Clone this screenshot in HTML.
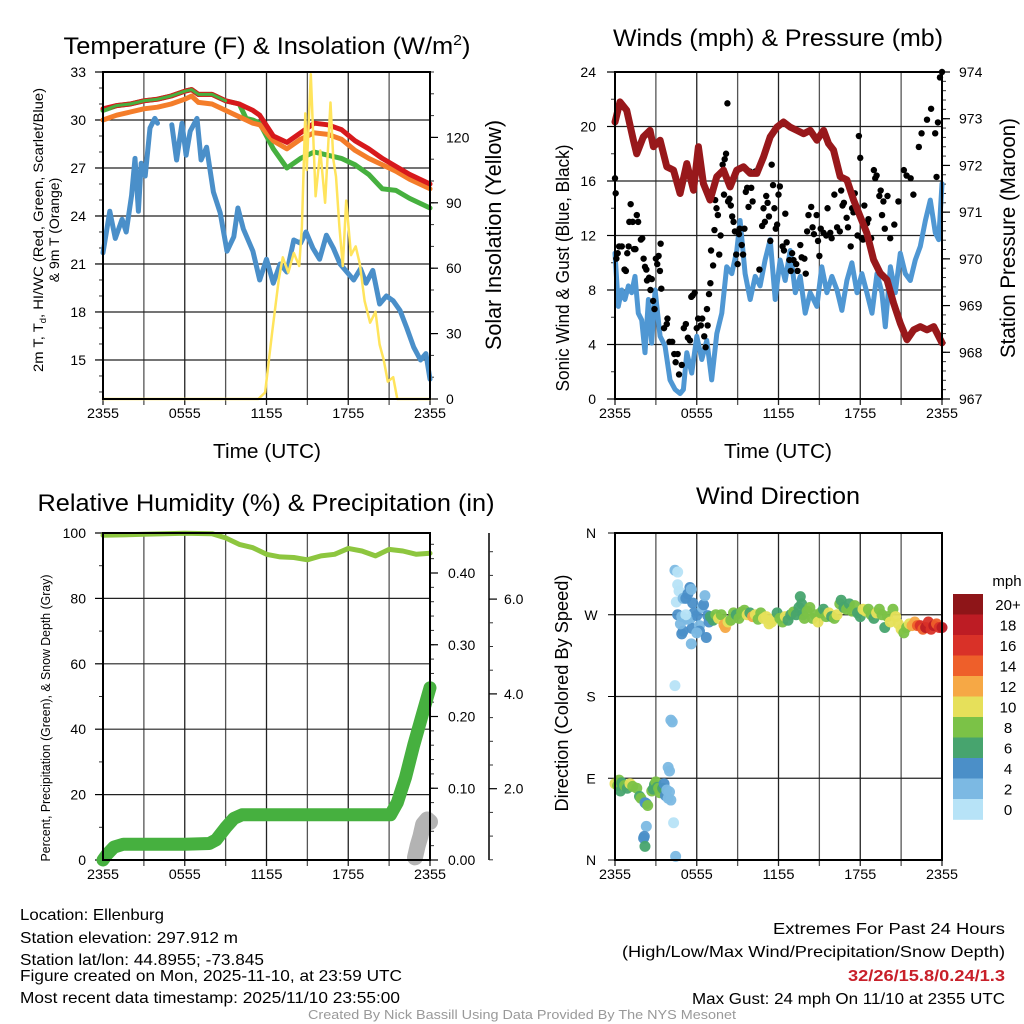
<!DOCTYPE html>
<html><head><meta charset="utf-8"><style>
html,body{margin:0;padding:0;background:#fff;}
svg{display:block;font-family:"Liberation Sans",sans-serif;}
</style></head><body>
<svg id="c" xmlns="http://www.w3.org/2000/svg" width="1024" height="1024" viewBox="0 0 1024 1024">
<rect width="1024" height="1024" fill="#fff"/>
<text x="267" y="54" font-size="24" text-anchor="middle" textLength="407" lengthAdjust="spacingAndGlyphs">Temperature (F) &amp; Insolation (W/m<tspan dy="-9" font-size="15">2</tspan><tspan dy="9">)</tspan></text>
<text x="778" y="46" font-size="24" text-anchor="middle" textLength="330" lengthAdjust="spacingAndGlyphs">Winds (mph) &amp; Pressure (mb)</text>
<text x="266" y="511" font-size="24" text-anchor="middle" textLength="457" lengthAdjust="spacingAndGlyphs">Relative Humidity (%) &amp; Precipitation (in)</text>
<text x="778" y="504" font-size="24" text-anchor="middle" textLength="164" lengthAdjust="spacingAndGlyphs">Wind Direction</text>
<text x="267" y="458" font-size="20" text-anchor="middle" textLength="108" lengthAdjust="spacingAndGlyphs">Time (UTC)</text>
<text x="778" y="458" font-size="20" text-anchor="middle" textLength="108" lengthAdjust="spacingAndGlyphs">Time (UTC)</text>
<text transform="translate(43,230) rotate(-90)" font-size="14" text-anchor="middle" textLength="284" lengthAdjust="spacingAndGlyphs">2m T, T<tspan font-size="9" dy="3">d</tspan><tspan dy="-3">, HI/WC (Red, Green, Scarlet/Blue)</tspan></text>
<text transform="translate(59,230) rotate(-90)" font-size="14" text-anchor="middle">&amp; 9m T (Orange)</text>
<text transform="translate(501,235) rotate(-90)" font-size="22" text-anchor="middle" textLength="230" lengthAdjust="spacingAndGlyphs">Solar Insolation (Yellow)</text>
<text transform="translate(569,268) rotate(-90)" font-size="18" text-anchor="middle" textLength="247" lengthAdjust="spacingAndGlyphs">Sonic Wind &amp; Gust (Blue, Black)</text>
<text transform="translate(1015,238) rotate(-90)" font-size="21" text-anchor="middle" textLength="240" lengthAdjust="spacingAndGlyphs">Station Pressure (Maroon)</text>
<text transform="translate(50,718) rotate(-90)" font-size="13" text-anchor="middle" textLength="287" lengthAdjust="spacingAndGlyphs">Percent, Precipitation (Green), &amp; Snow Depth (Gray)</text>
<text transform="translate(568,693) rotate(-90)" font-size="18" text-anchor="middle" textLength="237" lengthAdjust="spacingAndGlyphs">Direction (Colored By Speed)</text>
<g font-size="16">
<text x="20" y="920" textLength="144" lengthAdjust="spacingAndGlyphs">Location: Ellenburg</text>
<text x="20" y="943" textLength="218" lengthAdjust="spacingAndGlyphs">Station elevation: 297.912 m</text>
<text x="20" y="965" textLength="244" lengthAdjust="spacingAndGlyphs">Station lat/lon: 44.8955; -73.845</text>
<text x="20" y="981" textLength="382" lengthAdjust="spacingAndGlyphs">Figure created on Mon, 2025-11-10, at 23:59 UTC</text>
<text x="20" y="1003" textLength="380" lengthAdjust="spacingAndGlyphs">Most recent data timestamp: 2025/11/10 23:55:00</text>
<text x="773" y="934" textLength="232" lengthAdjust="spacingAndGlyphs">Extremes For Past 24 Hours</text>
<text x="622" y="957" textLength="383" lengthAdjust="spacingAndGlyphs">(High/Low/Max Wind/Precipitation/Snow Depth)</text>
<text x="848" y="981" textLength="157" lengthAdjust="spacingAndGlyphs" font-weight="bold" fill="#c8202a">32/26/15.8/0.24/1.3</text>
<text x="692" y="1004" textLength="313" lengthAdjust="spacingAndGlyphs">Max Gust: 24 mph On 11/10 at 2355 UTC</text>
</g>
<text x="308" y="1019" font-size="13" fill="#999" textLength="428" lengthAdjust="spacingAndGlyphs">Created By Nick Bassill Using Data Provided By The NYS Mesonet</text>
</svg>
<script>
// ---- data ----
const xTickLabels = ["2355","0555","1155","1755","2355"];
const tTimes = [0,1,2,3,4,5,6,6.5,7,8,9,10,10.5,11,11.5,12.5,13.5,14.5,15.5,16.5,17.5,18.5,19.5,20.5,21.5,22.5,24];
const tRed =   [30.7,30.9,31.0,31.2,31.3,31.5,31.8,31.9,31.6,31.6,31.2,31.0,30.8,30.6,30.3,29.0,28.6,29.2,29.8,29.7,29.4,28.7,28.2,27.6,27.1,26.6,26.0];
const tOrange= [30.0,30.3,30.5,30.7,30.8,31.0,31.3,31.5,31.1,31.0,30.6,30.2,30.0,29.8,29.7,28.7,28.2,28.8,29.2,29.1,28.8,28.1,27.6,27.2,26.8,26.3,25.7];
const tGreen = [30.6,30.9,31.0,31.2,31.3,31.5,31.8,31.9,31.6,31.6,31.2,31.0,30.1,30.0,29.8,28.2,27.0,27.6,28.0,27.8,27.6,27.2,26.6,25.7,25.6,25.1,24.5];
const dTimes = [0,0.5,0.9,1.4,1.7,2.1,2.35,2.6,2.8,3.1,3.45,3.8,4.0,4.5,5.05,5.4,5.8,6.1,6.4,6.9,7.2,7.6,8.1,8.6,9.1,9.6,9.9,10.3,11,11.5,12,12.5,13,13.5,14,14.5,14.9,15.4,15.9,16.4,16.9,17.4,17.9,18.4,18.9,19.3,19.8,20.3,20.8,21.3,21.8,22.3,22.8,23.3,23.7,24];
const dBlue = [21.7,24.3,22.6,23.8,23.0,25.3,27.6,24.3,27.3,26.5,29.5,30.1,29.8,null,29.7,27.5,29.8,27.8,29.3,30.1,27.5,28.3,25.5,24.2,21.8,22.7,24.5,23.2,21.8,20.0,21.3,19.8,21.0,20.5,22.5,22.3,23.0,22.0,21.3,22.8,22.0,21.0,20.5,20.0,20.7,19.8,20.6,18.5,19.0,18.7,18.1,17.0,15.8,15.0,15.4,13.8];
const sTimes = [0,11.4,11.9,12.4,12.9,13.2,13.6,14.0,14.4,14.6,14.85,14.95,15.25,15.6,15.95,16.3,16.7,16.9,17.1,17.35,17.6,17.85,18.2,18.55,18.85,19.2,19.6,20.0,20.3,20.6,20.9,21.3,21.6,24];
const sYellow= [0,0,3,30,55,65,58,67,61,79,131,105,149,93,114,90,136,110,102,79,61,91,66,70,62,45,35,40,25,18,8,10,0,0];
const wTimes = [0,.24,.49,.73,.98,1.22,1.47,1.71,1.96,2.2,2.45,2.69,2.94,3.31,3.67,4.04,4.41,4.78,5.02,5.27,5.63,6.0,6.37,6.74,7.1,7.47,7.84,8.2,8.57,8.94,9.18,9.55,9.92,10.29,10.65,11.02,11.39,11.76,12.12,12.49,12.86,13.23,13.59,13.96,14.33,14.82,15.18,15.55,15.92,16.29,16.65,17.02,17.39,17.76,18.12,18.49,18.86,19.23,19.59,19.84,20.21,20.57,20.94,21.31,21.67,22.04,22.41,22.78,23.14,23.51,23.76,24.0];
const wSpeed = [10.7,6.8,8.0,7.3,8.3,7.8,9.0,6.3,5.8,3.4,7.3,4.1,8.0,4.6,3.9,1.4,0.7,0.4,0.7,3.4,1.9,4.6,2.9,4.3,1.4,4.8,6.3,9.7,9.2,10.9,13.1,9.2,7.3,9.0,8.3,10.2,11.7,7.3,10.2,8.7,10.9,7.8,9.0,6.3,7.8,6.8,9.7,7.8,9.0,8.0,6.5,8.7,10.0,7.8,9.2,7.8,6.3,9.2,7.8,5.3,9.7,7.8,10.7,9.2,8.7,10.2,11.2,13.1,14.6,12.2,11.7,15.8];
const gTimes = [0,0.05,0.1,0.2,0.3,0.5,0.7,0.8,0.9,1.0,1.05,1.15,1.3,1.4,1.5,1.6,1.7,1.9,2.0,2.1,2.2,2.3,2.35,2.5,2.6,2.7,2.8,2.9,3.0,3.1,3.2,3.3,3.35,3.4,3.6,3.8,3.85,4.0,4.2,4.35,4.45,4.6,4.7,4.9,5.05,5.2,5.35,5.5,5.6,5.7,5.85,6.0,6.1,6.3,6.4,6.55,6.65,6.75,6.8,6.9,7.0,7.05,7.2,7.3,7.35,7.45,7.55,7.65,7.75,7.9,8.0,8.05,8.15,8.25,8.3,8.4,8.5,8.6,8.7,8.8,8.9,9.0,9.1,9.15,9.3,9.4,9.5,9.6,9.7,9.8,9.9,10.0,10.1,10.3,10.6,10.8,10.9,11.0,11.1,11.2,11.3,11.4,11.5,11.6,11.7,11.8,11.9,12.0,12.1,12.3,12.4,12.5,12.6,12.8,12.9,13.0,13.1,13.3,13.4,13.6,13.7,13.9,14.0,14.1,14.2,14.4,14.5,14.6,14.8,14.9,15.0,15.1,15.3,15.5,15.6,15.8,15.9,16.1,16.3,16.5,16.6,16.7,16.8,17.0,17.1,17.3,17.4,17.5,17.6,17.8,17.9,18.0,18.1,18.2,18.3,18.5,18.6,18.8,19.0,19.1,19.2,19.4,19.5,19.6,19.7,19.8,20.0,20.2,20.5,20.8,21.2,21.4,21.7,21.9,22.3,22.5,22.9,23.2,23.5,23.6,23.7,23.85,24];
const gGust  = [16.2,15.1,10.3,10.7,11.2,11.2,9.5,9.4,10.7,11.2,13,14.3,13,11,11,13.5,13,11.7,11.8,10.3,9.7,9.5,8.7,8.9,8,8.8,7.2,6.6,10.3,9.9,10.5,9.4,11.4,8.1,5.2,5.5,5.9,4.2,4.2,3.3,2.7,3.3,1.8,2.5,5.2,5.5,4.5,4.3,7.5,7.6,7.8,5.2,5.9,5.4,5.9,4.6,3.8,6.6,5.4,7.7,8.5,10.9,9.8,12.4,14.6,14,13.5,10.6,12,17.2,15,17.6,18,21.7,14.5,14.7,14.2,13.4,13,12.3,10.6,9.9,12.1,12.5,11.3,10.6,12.5,15.2,15.5,14.1,16.7,15.5,14.5,16.7,9.5,12.7,14,13,14.9,14.4,13.4,11.6,17.2,15.7,14,12.5,12.8,15,15.6,11.2,10.9,13.6,11.5,10.2,9.4,10.7,10.2,9.9,9.4,11.3,10.4,10.3,9.2,12.3,13.5,14.1,12.6,12.1,13.5,11.6,10.5,12.5,12.2,12,14,12.2,11.8,15,12.6,12.3,15.3,14.2,14.4,13.3,12.6,11.2,14,13.7,15.1,12,19.3,17.7,11.8,11.7,14.2,12.9,13.2,11.8,16.8,16.2,16.4,14.9,15.3,13.5,14.5,12.5,14.9,11.8,12.8,14.5,16.8,16.4,16.2,15,18.5,19.5,20.5,21.3,19.5,16.3,20.3,23.6,24];
const pTimes = [0,0.37,0.86,1.35,1.59,2.08,2.57,2.82,3.31,3.80,4.29,4.78,5.27,5.76,6.12,6.49,6.98,7.47,7.96,8.45,8.94,9.43,9.92,10.41,10.90,11.39,11.88,12.37,12.86,13.35,13.84,14.33,14.82,15.31,15.67,16.04,16.53,17.02,17.51,18.0,18.49,18.98,19.47,19.96,20.45,20.94,21.43,21.92,22.41,22.9,23.39,24];
const pPress = [972.93,973.36,973.18,972.54,972.25,972.61,972.75,972.40,972.54,971.97,971.90,971.40,972.04,971.47,972.40,971.61,971.26,971.76,971.90,971.54,971.90,971.97,971.83,971.83,972.18,972.61,972.82,972.93,972.82,972.75,972.68,972.75,972.54,972.75,972.47,972.33,971.76,971.69,971.26,970.90,970.55,969.98,969.69,969.55,969.05,968.62,968.27,968.48,968.55,968.48,968.55,968.2];
const rhTimes = [0,3,6,8,9,10,11,12,13,14,15,16,17,18,19,20,21,22,23,24];
const rhVals  = [99.3,99.6,99.9,99.8,98.5,96.5,95.5,93.5,92.7,92.5,91.8,93,93.5,95.3,94.5,93,95,94.5,93.5,93.8];
const prTimes = [0,0.3,0.8,1.5,6,7.8,8.3,9.0,9.6,10.2,10.6,21.1,21.6,22.2,22.8,23.4,24];
const prVals  = [0,0.008,0.018,0.022,0.022,0.023,0.028,0.045,0.058,0.063,0.063,0.063,0.08,0.115,0.16,0.2,0.24];
const snTimes = [22.9,23.1,23.3,23.5,23.8,24];
const snVals  = [0.55,0.8,1.0,1.25,1.35,1.3];
const dirTimes = [0,0.2,0.3,0.4,0.5,0.7,0.9,1.1,1.3,1.6,1.8,1.9,2.2,2.3,2.4,2.7,2.8,2.9,3.0,3.1,3.2,3.3,3.5,3.6,3.7,3.8,3.9,4.0,4.1,2.3,2.15,2.1,2.2,3.9,4.0,4.3,4.45,4.1,4.2,4.4,4.4,4.6,4.6,4.7,4.5,4.6,4.9,5.0,5.2,5.35,5.5,5.6,5.7,5.8,5.5,5.65,4.9,5.0,5.6,6.0,6.2,6.4,6.5,6.6,6.2,6.8,6.9,6.0,5.3,5.2,4.8,6.7,7.0,7.2,7.4,7.6,7.8,8.0,8.1,8.3,8.5,8.7,8.9,9.1,9.3,9.5,9.7,9.9,10.1,10.3,10.5,10.7,10.9,11.1,11.3,11.5,11.7,11.9,12.1,12.3,12.5,12.7,12.9,13.1,13.3,13.5,13.6,13.7,13.8,13.9,14.1,14.3,14.5,14.7,14.9,15.1,15.3,15.5,15.7,15.9,16.1,16.3,16.5,16.6,16.8,17.0,17.2,17.4,17.6,17.8,18.0,18.2,18.4,18.6,18.8,19.0,19.2,19.4,19.6,19.8,20.0,20.2,20.4,20.6,20.8,21.0,21.2,21.4,21.6,21.8,22.0,22.2,22.4,22.6,22.8,23.0,23.2,23.4,23.6,23.8,24.0];
const dirVals = [84,82,88,76,85,82,79,84,81,79,70,68,63,62,60,76,78,83,86,80,79,74,79,84,71,77,68,75,66,37,26,24,15,102,98,41,4,154,152,192,319,317,303,296,284,270,268,288,288,293,300,298,283,272,265,255,249,252,238,269,258,278,281,291,252,269,262,250,265,270,260,245,268,264,270,266,270,259,256,262,264,272,270,266,273,275,270,272,268,270,265,272,266,268,260,262,266,272,266,262,268,264,270,273,270,278,290,282,270,266,274,278,266,270,262,272,276,268,272,268,266,270,282,286,278,276,282,274,280,272,268,276,274,276,270,266,272,276,270,256,268,262,276,268,260,254,250,256,260,258,262,258,258,254,256,262,254,258,260,256,256];
const dirSpeed= [10,8,8,6,6,8,6,10,8,8,6,8,4,4,8,8,6,6,8,6,8,8,6,4,4,2,2,2,2,2,4,4,6,2,2,0,2,2,2,0,2,0,0,0,0,4,2,2,4,4,4,2,4,4,2,4,4,4,2,4,2,2,4,2,4,4,4,2,2,0,2,4,6,6,8,10,8,12,12,10,8,8,6,8,8,8,10,6,12,10,8,8,10,10,10,10,10,6,8,8,10,6,6,8,6,6,6,6,6,8,8,8,8,8,10,8,6,8,10,6,8,10,8,6,6,8,6,8,8,6,6,10,10,8,8,6,10,8,8,6,8,10,8,10,10,10,8,8,10,12,12,14,16,14,18,16,16,18,14,16,18,16];
const speedLabels = ["20+","18","16","14","12","10","8","6","4","2","0"];
const speedColors = ["#b7e3f7","#7cb9e3","#4b8fc8","#47a46e","#7bc247","#e6e05a","#f6a845","#ee5f2a","#d93128","#bd1c24","#8e1518"];

// ---- drawing ----
const svg=document.getElementById('c');
const NS='http://www.w3.org/2000/svg';
function mk(tag,attrs,parent){const e=document.createElementNS(NS,tag);for(const k in attrs)e.setAttribute(k,attrs[k]);(parent||svg).appendChild(e);return e;}
const P1={x0:103,x1:430,y0:72,y1:399}, P2={x0:615,x1:942,y0:72,y1:399}, P3={x0:103,x1:430,y0:533,y1:860}, P4={x0:615,x1:942,y0:533,y1:860};
function xs(P){return t=>P.x0+t/24*(P.x1-P.x0);}
function lin(P,lo,hi){return v=>P.y1-(v-lo)/(hi-lo)*(P.y1-P.y0);}
const y1L=lin(P1,12.56,33), y1R=lin(P1,0,150);
const y2L=lin(P2,0,24), y2R=lin(P2,967,974);
const y3L=lin(P3,0,100), y3P=v=>860-v*717.5, y3S=v=>883.5-v*47.4;
const y4=lin(P4,0,360);

function frameAndGrid(P,name,yVals,yF){
  const g=mk('g',{});
  
  
  const X=xs(P);
  for(let i=0;i<=8;i++){const x=X(i*3);mk('line',{x1:x,x2:x,y1:P.y0,y2:P.y1+6,stroke:i%2?'#555':'#222','stroke-width':1.3},g);}
  yVals.forEach(v=>{const y=yF(v);mk('line',{x1:P.x0,x2:P.x1,y1:y,y2:y,stroke:'#222','stroke-width':1.2},g);});
  xTickLabels.forEach((l,i)=>{const t=mk('text',{x:X(i*6),y:P.y1+19,'font-size':14,'text-anchor':'middle',textLength:32,lengthAdjust:'spacingAndGlyphs'},g);t.textContent=l;});
}
function border(P,name){
  const r=mk('rect',{x:P.x0,y:P.y0,width:P.x1-P.x0,height:P.y1-P.y0,fill:'none',stroke:'#000','stroke-width':2});
  
  
}
function yAxis(x,dir,major,minor,yF,fmt,name,fs,labelX,anchor){
  const g=mk('g',{});
  
  
  minor.forEach(v=>{const y=yF(v);mk('line',{x1:x,x2:x+dir*4,y1:y,y2:y,stroke:'#333','stroke-width':1},g);});
  major.forEach(v=>{const y=yF(v);mk('line',{x1:x,x2:x+dir*8,y1:y,y2:y,stroke:'#000','stroke-width':1.2},g);
    const t=mk('text',{x:labelX,y:y+5,'font-size':fs,'text-anchor':anchor},g);t.textContent=fmt(v);});
}
function range(a,b,s){const r=[];for(let v=a;v<=b+1e-9;v+=s)r.push(+v.toFixed(4));return r;}
function path(ts,vs,X,Y,attrs,name){
  let d='',pen=false;
  ts.forEach((t,i)=>{const v=vs[i];if(v===null||v===undefined||isNaN(v)){pen=false;return;}
    d+=(pen?'L':'M')+X(t).toFixed(1)+' '+Y(v).toFixed(1)+' ';pen=true;});
  const p=mk('path',Object.assign({d:d,fill:'none','stroke-linejoin':'round','stroke-linecap':'round'},attrs));
  
  
  return p;
}

// Panel 1
frameAndGrid(P1,'temperature',[15,18,21,24,27,30],y1L);
const X1=xs(P1);
yAxis(P1.x0,-1,[15,18,21,24,27,30,33],range(13,32,1),y1L,v=>String(v),'temperature-left-axis',14,86,'end');
yAxis(P1.x1,1,[0,30,60,90,120],range(10,150,10),y1R,v=>String(v),'insolation-right-axis',14,446,'start');
path(dTimes,dBlue,X1,y1L,{stroke:'#4a8fc9','stroke-width':5},'dewpoint-line');
path(tTimes,tGreen,X1,y1L,{stroke:'#46b03f','stroke-width':5},'windchill-line');
path(tTimes,tOrange,X1,y1L,{stroke:'#f47d2a','stroke-width':5},'temp-9m-line');
path(tTimes,tRed,X1,y1L,{stroke:'#d7191c','stroke-width':5},'temp-2m-line');
path(tTimes.slice(0,11),tGreen.slice(0,11),X1,y1L,{stroke:'#46b03f','stroke-width':3},'windchill-overlap');
path(sTimes,sYellow,X1,y1R,{stroke:'#ffe45c','stroke-width':2.5},'insolation-line');
border(P1,'temperature');

// Panel 2
frameAndGrid(P2,'wind',[4,8,12,16,20],y2L);
const X2=xs(P2);
yAxis(P2.x0,-1,[0,4,8,12,16,20,24],range(2,22,2),y2L,v=>String(v),'wind-left-axis',14,596,'end');
yAxis(P2.x1,1,[967,968,969,970,971,972,973,974],range(967.2,973.8,0.2),y2R,v=>String(v),'pressure-right-axis',14,959,'start');
path(wTimes,wSpeed,X2,y2L,{stroke:'#4f97d3','stroke-width':5},'wind-speed-line');
gTimes.forEach((t,i)=>{const c=mk('circle',{cx:X2(t),cy:y2L(gGust[i]),r:3.2,fill:'#000'});

});
path(pTimes,pPress,X2,y2R,{stroke:'#98181b','stroke-width':7},'pressure-line');
border(P2,'wind');

// Panel 3
frameAndGrid(P3,'humidity',[20,40,60,80],y3L);
const X3=xs(P3);
yAxis(P3.x0,-1,[0,20,40,60,80,100],range(10,90,20),y3L,v=>String(v),'humidity-left-axis',14,86,'end');
yAxis(P3.x1,1,[0,0.1,0.2,0.3,0.4],range(0.02,0.44,0.02),y3P,v=>v.toFixed(2),'precip-axis',14,448,'start');
mk('line',{x1:489,x2:489,y1:533,y2:860,stroke:'#000','stroke-width':1.5});
yAxis(489,1,[2,4,6],range(0.5,7.5,0.5).filter(v=>v%2&&y3S(v)>533),y3S,v=>v.toFixed(1),'snow-axis',14,504,'start');
path(rhTimes,rhVals,X3,y3L,{stroke:'#8dc63f','stroke-width':5},'humidity-line');
path(prTimes,prVals,X3,y3P,{stroke:'#46b03f','stroke-width':13},'precip-line');
path(snTimes,snVals,X3,y3S,{stroke:'#b3b3b3','stroke-width':16},'snow-depth-line');
border(P3,'humidity');

// Panel 4
frameAndGrid(P4,'direction',[90,180,270],y4);
const X4=xs(P4);
const dirLabels=['N','E','S','W','N'];
const dg=mk('g',{});


dirLabels.forEach((l,i)=>{const y=y4(i*90);mk('line',{x1:P4.x0-7,x2:P4.x0,y1:y,y2:y,stroke:'#000'},dg);
  const t=mk('text',{x:591,y:y+5,'font-size':14,'text-anchor':'middle'},dg);t.textContent=l;});
dirTimes.forEach((t,i)=>{const ci=Math.min(10,Math.floor(dirSpeed[i]/2));
  const c=mk('circle',{cx:X4(t),cy:y4(dirVals[i]),r:5.5,fill:speedColors[ci],'fill-opacity':0.95});
  
  });
border(P4,'direction');
// colorbar
const cb=mk('g',{});


const cbt=mk('text',{x:1007,y:586,'font-size':15,'text-anchor':'middle'},cb);cbt.textContent='mph';
speedLabels.forEach((l,i)=>{const y=594+i*20.5;
  mk('rect',{x:953,y:y,width:30,height:20.8,fill:speedColors[10-i]},cb);
  const t=mk('text',{x:1008,y:y+16,'font-size':15,'text-anchor':'middle'},cb);t.textContent=l;});
</script>
</body></html>
